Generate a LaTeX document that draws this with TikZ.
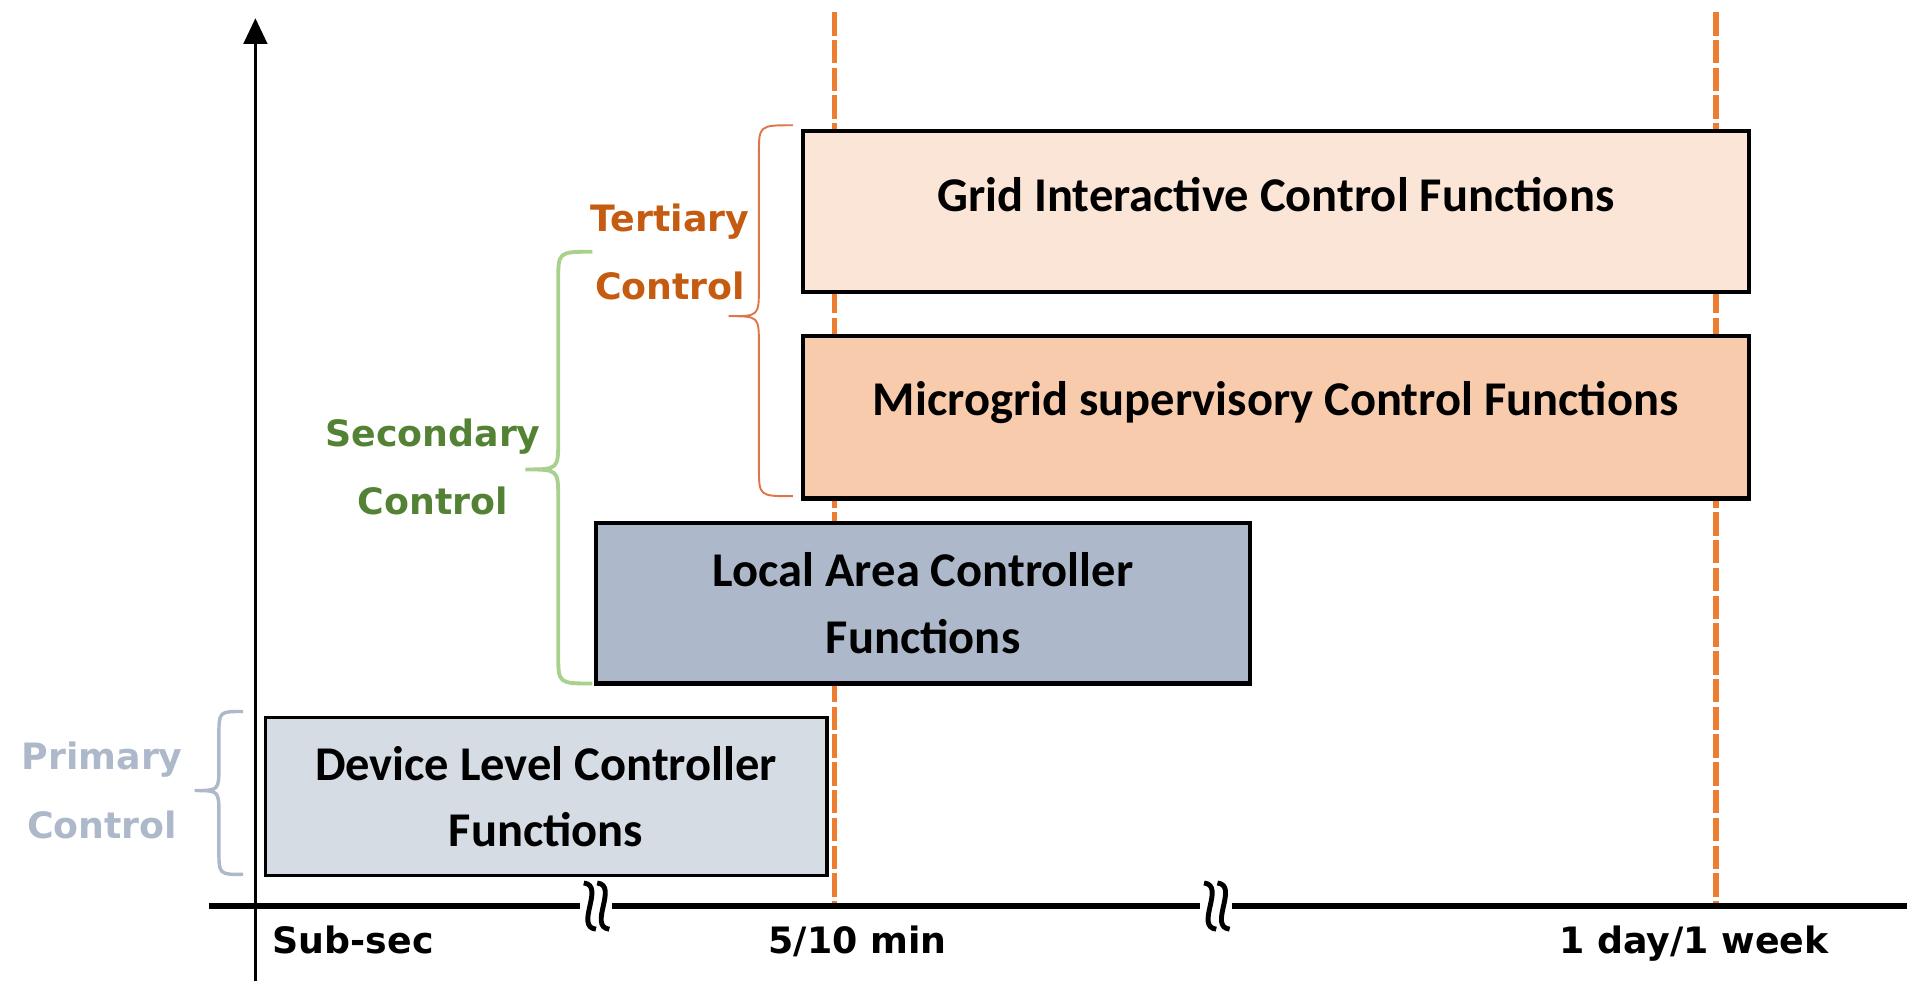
\documentclass[tikz,border=0pt]{standalone}
\usepackage{fontspec}
\setmainfont{Carlito}
\newfontfamily\lblfont{DejaVu Sans}
\usetikzlibrary{arrows.meta,calc}
\definecolor{ctrlorange}{HTML}{ED7D31}
\definecolor{tertext}{HTML}{C55A11}
\definecolor{terbrace}{HTML}{E0754A}
\definecolor{sectext}{HTML}{548235}
\definecolor{secbrace}{HTML}{A9D18E}
\definecolor{primgray}{HTML}{ADB9CA}
\definecolor{gridfill}{HTML}{FBE5D6}
\definecolor{microfill}{HTML}{F8CBAD}
\definecolor{localfill}{HTML}{ADB9CA}
\definecolor{devfill}{HTML}{D6DCE4}

\begin{document}
\begin{tikzpicture}[x=0.02cm, y=-0.02cm,
    fnbox/.style={draw=black, line width=2pt, align=center, inner sep=0pt,
      font=\fontsize{22.7}{31}\selectfont\bfseries},
    lbl/.style={font=\lblfont\fontsize{17}{32}\selectfont\bfseries, align=center},
    axlbl/.style={font=\lblfont\fontsize{17}{20}\selectfont\bfseries, anchor=base},
    tband/.style={draw=ctrlorange, line width=2.6pt, dash pattern=on 11pt off 2pt},
  ]
  \useasboundingbox (0,0) rectangle (1568,807);

  % time marks
  \draw[tband] (686,10) -- (686,745);
  \draw[tband] (1411,10) -- (1411,745);

  % function boxes
  \node[fnbox, fill=gridfill, minimum width=15.56cm, minimum height=2.64cm]
    (grid) at (1049,174) {\raisebox{0.56cm}{Grid Interactive Control Functions}};
  \node[fnbox, fill=microfill, minimum width=15.56cm, minimum height=2.68cm]
    (micro) at (1049,343) {\raisebox{0.6cm}{Microgrid supervisory Control Functions}};
  \node[fnbox, fill=localfill, minimum width=10.76cm, minimum height=2.64cm]
    (local) at (759,496) {Local Area Controller\\Functions};
  \node[fnbox, fill=devfill, line width=1.5pt, minimum width=9.24cm, minimum height=2.6cm]
    (device) at (449,655) {Device Level Controller\\Functions};

  % axes
  \draw[line width=1.4pt, -{Triangle[width=11pt,length=12pt]}] (210,807) -- (210,15);
  \draw[line width=3pt] (172,745) -- (1568,745);

  % axis breaks
  \foreach \bx in {490,1000} {
    \fill[white] (\bx-13,738) rectangle (\bx+13,752);
    \foreach \dx in {-5,6}
      \draw[line width=2.3pt]
        (\bx+\dx-5,726) .. controls (\bx+\dx+13,728) and (\bx+\dx-13,762) .. (\bx+\dx+5,764);
  }

  \node[axlbl, anchor=base west] (subsec) at (218,784) {Sub-sec};
  \node[axlbl] (tenmin) at (705,784) {5/10 min};
  \node[axlbl] (week) at (1393,784) {1 day/1 week};

  % braces
  \draw[terbrace, line width=0.9pt]
    (652,103) .. controls (624,103) .. (624,127) -- (624,236)
    .. controls (624,260) .. (599,260) .. controls (624,260) .. (624,284)
    -- (624,384) .. controls (624,408) .. (652,408);
  \draw[secbrace, line width=1.8pt]
    (487,207) .. controls (459,207) .. (459,231) -- (459,362)
    .. controls (459,386) .. (432,386) .. controls (459,386) .. (459,410)
    -- (459,538) .. controls (459,562) .. (487,562);
  \draw[primgray, line width=1.6pt]
    (200,585) .. controls (180,585) .. (180,605) -- (180,630)
    .. controls (180,650) .. (160,650) .. controls (180,650) .. (180,670)
    -- (180,699) .. controls (180,719) .. (200,719);

  \node[lbl, text=tertext] (tertiary) at (551,207) {Tertiary\\Control};
  \node[lbl, text=sectext] (secondary) at (356,384) {Secondary\\Control};
  \node[lbl, text=primgray] (primary) at (84,650) {Primary\\Control};
\end{tikzpicture}
\end{document}
